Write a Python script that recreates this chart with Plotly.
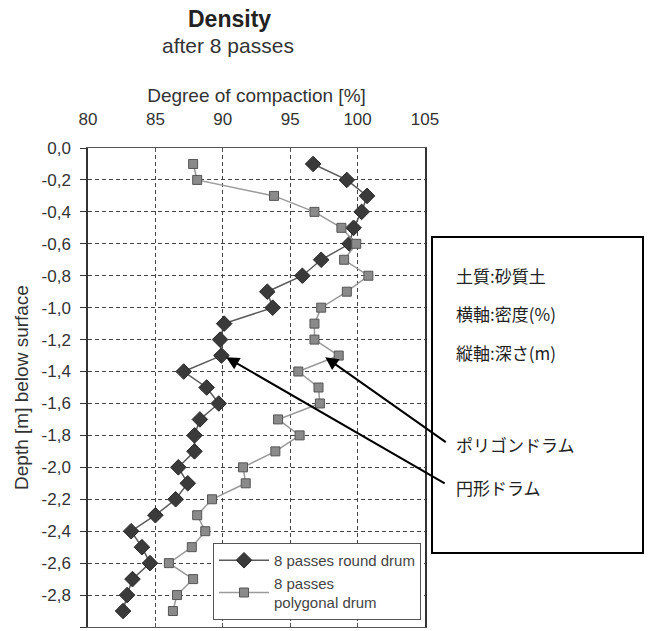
import plotly.graph_objects as go

depth = [-0.1, -0.2, -0.3, -0.4, -0.5, -0.6, -0.7, -0.8, -0.9, -1.0,
         -1.1, -1.2, -1.3, -1.4, -1.5, -1.6, -1.7, -1.8, -1.9, -2.0,
         -2.1, -2.2, -2.3, -2.4, -2.5, -2.6, -2.7, -2.8, -2.9]
round_drum = [96.7, 99.2, 100.7, 100.3, 99.7, 99.4, 97.3, 95.9, 93.3, 93.7,
              90.1, 89.8, 89.9, 87.1, 88.8, 89.7, 88.3, 87.9, 87.9, 86.7,
              87.4, 86.5, 85.0, 83.2, 84.0, 84.6, 83.3, 82.9, 82.6]
polygonal_drum = [87.8, 88.1, 93.8, 96.8, 98.8, 99.9, 99.0, 100.8, 99.2, 97.3,
                  96.8, 96.8, 98.6, 95.6, 97.1, 97.2, 94.1, 95.7, 93.9, 91.5,
                  91.7, 89.2, 88.1, 88.7, 87.7, 86.0, 87.8, 86.6, 86.3]
x_ticks = [80, 85, 90, 95, 100, 105]
y_ticks = [0.0, -0.2, -0.4, -0.6, -0.8, -1.0, -1.2, -1.4, -1.6, -1.8,
           -2.0, -2.2, -2.4, -2.6, -2.8, -3.0]
y_labels = [f"{v:.1f}".replace(".", ",") for v in y_ticks]
y_labels[0] = "0,0"
info_lines = ["土質:砂質土", "横軸:密度(%)", "縦軸:深さ(m)"]
arrow_labels = ["ポリゴンドラム", "円形ドラム"]

font_main = "Liberation Sans, Arial, sans-serif"
font_jp = "Noto Sans CJK JP"

fig = go.Figure()
fig.add_trace(go.Scatter(
    x=round_drum, y=depth, mode="lines+markers", name="8 passes round drum",
    line=dict(color="#5a5a5a", width=1.5),
    marker=dict(symbol="diamond", size=12, color="#3a3a3a",
                line=dict(color="#2a2a2a", width=1)),
))
fig.add_trace(go.Scatter(
    x=polygonal_drum, y=depth, mode="lines+markers", name="8 passes<br>polygonal drum",
    line=dict(color="#9a9a9a", width=1.5),
    marker=dict(symbol="square", size=9, color="#8a8a8a",
                line=dict(color="#555555", width=1)),
))

L, R, T, B = 88, 223, 148, 4
W, H = 648, 631
pw, ph = W - L - R, H - T - B

def px(xp):
    return (xp - L) / pw

def py(yp):
    return (H - B - yp) / ph

fig.update_layout(
    width=W, height=H,
    margin=dict(l=L, r=R, t=T, b=B),
    paper_bgcolor="white", plot_bgcolor="white",
    font=dict(family=font_main, color="#333333", size=17),
    showlegend=True,
    legend=dict(x=px(421), y=py(620), xanchor="right", yanchor="bottom",
                bordercolor="#555555", borderwidth=1, bgcolor="white",
                font=dict(size=15, color="#444444"), tracegroupgap=4,
                itemwidth=50),
    xaxis=dict(side="top", range=[80, 105], tickvals=x_ticks,
               showgrid=True, gridcolor="#444444", griddash="4px,3px", gridwidth=1.2,
               showline=True, linecolor="#555555", linewidth=1, mirror="ticks",
               ticks="inside", ticklen=4, tickcolor="#555555", zeroline=False,
               ticklabelstandoff=15,
               title=dict(text="Degree of compaction [%]", standoff=2,
                          font=dict(size=19, color="#333333")),
               tickfont=dict(size=17, color="#333333")),
    yaxis=dict(range=[-3.0, 0.0], tickvals=y_ticks, ticktext=y_labels,
               showgrid=True, gridcolor="#444444", griddash="4px,3px", gridwidth=1.2,
               showline=True, linecolor="#333333", linewidth=1.5, mirror=True,
               ticks="outside", ticklen=6, tickcolor="#333333", zeroline=False,
               ticklabelstandoff=6,
               title=dict(text="Depth [m] below surface", standoff=8,
                          font=dict(size=19, color="#333333")),
               tickfont=dict(size=17, color="#333333")),
)

annotations = [
    dict(text="<b>Density</b>", xref="paper", yref="paper", x=px(229), y=py(19),
         yanchor="middle", showarrow=False,
         font=dict(size=23, color="#222222", family=font_main)),
    dict(text="after 8 passes", xref="paper", yref="paper", x=px(228), y=py(46),
         yanchor="middle", showarrow=False,
         font=dict(size=21, color="#333333", family=font_main)),
]
for i, t in enumerate(info_lines):
    annotations.append(dict(text=t, xref="paper", yref="paper", x=px(454), y=py([275, 313, 352][i]),
                            xanchor="left", yanchor="middle", showarrow=False,
                            font=dict(size=17, color="#222222", family=font_jp)))
for i, t in enumerate(arrow_labels):
    annotations.append(dict(text=t, xref="paper", yref="paper", x=px(454), y=py([445, 487][i]),
                            xanchor="left", yanchor="middle", showarrow=False,
                            font=dict(size=17, color="#222222", family=font_jp)))
# arrows pointing at the -1.3 m points (tail offsets in pixels)
annotations.append(dict(x=polygonal_drum[12] - 1.0, y=depth[12] - 0.01, xref="x", yref="y",
                        ax=122, ay=86, text="",
                        showarrow=True, arrowhead=2, arrowsize=1.3, arrowwidth=2,
                        arrowcolor="black", standoff=0))
annotations.append(dict(x=round_drum[12] + 0.35, y=depth[12] - 0.01, xref="x", yref="y",
                        ax=220, ay=127, text="",
                        showarrow=True, arrowhead=2, arrowsize=1.3, arrowwidth=2,
                        arrowcolor="black", standoff=0))
fig.update_layout(annotations=annotations)

fig.add_shape(type="rect", xref="paper", yref="paper",
              x0=px(432), x1=px(643), y0=py(553), y1=py(237),
              line=dict(color="black", width=2), fillcolor="rgba(0,0,0,0)")

fig.write_html("out.html", post_script="document.body.style.margin='0px';",
               config={"displayModeBar": False})
